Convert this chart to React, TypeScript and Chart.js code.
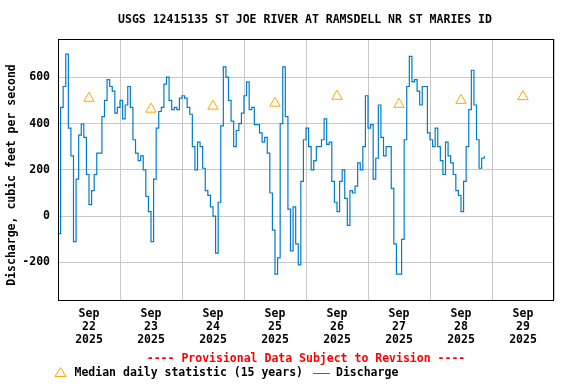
import React, { useEffect, useRef } from 'react';
import { Chart, registerables } from 'chart.js';

Chart.register(...registerables);

const TITLE = 'USGS 12415135 ST JOE RIVER AT RAMSDELL NR ST MARIES ID';
const Y_TITLE = 'Discharge, cubic feet per second';
const PROVISIONAL = '---- Provisional Data Subject to Revision ----';
const MEDIAN_LABEL = 'Median daily statistic (15 years)';
const DISCHARGE_LABEL = 'Discharge';
const MONTH = 'Sep';
const YEAR = '2025';
const dayLabels = ['22', '23', '24', '25', '26', '27', '28', '29'];
const dayTickHours = [0, 24, 48, 72, 96, 120, 144, 168, 192];
const yTicks = [-200, 0, 200, 400, 600];

// Hourly discharge (cfs), one value per hour starting at 00:00 of each day
const sep22Flow = [-75, 470, 560, 700, 380, 260, -110, 160, 350, 398, 340, 180, 50, 110, 180, 272, 272, 430, 500, 590, 560, 540, 445, 470];
const sep23Flow = [500, 420, 480, 560, 470, 330, 272, 240, 260, 200, 85, 20, -110, 160, 380, 452, 470, 570, 600, 500, 460, 470, 460, 510];
const sep24Flow = [520, 510, 470, 440, 300, 200, 320, 300, 207, 110, 90, 40, 0, -160, 60, 390, 645, 600, 500, 410, 300, 370, 400, 445];
const sep25Flow = [520, 580, 460, 470, 395, 395, 360, 320, 340, 272, 100, -60, -250, -180, 400, 645, 430, 30, -150, 40, -120, -210, 150, 330];
const sep26Flow = [380, 300, 200, 240, 300, 300, 330, 420, 310, 320, 150, 60, 20, 150, 200, 77, -40, 110, 100, 130, 230, 200, 300, 520];
const sep27Flow = [380, 395, 160, 250, 480, 340, 260, 300, 300, 120, -120, -250, -250, -100, 330, 560, 690, 580, 590, 540, 480, 560, 560, 360];
const sep28Flow = [330, 300, 380, 300, 240, 180, 320, 260, 230, 180, 110, 90, 20, 150, 300, 460, 630, 480, 330, 207, 250, 260];

// Median daily statistic (cfs), plotted at noon of each day
const medianFlow = [509, 462, 475, 488, 518, 483, 500, 516];

const FONT_FAMILY = '"DejaVu Sans Mono", monospace';
const FONT_SIZE = 11.5;
const CSS_FONT = `bold ${FONT_SIZE}px ${FONT_FAMILY}`;
const LINE_COLOR = 'rgb(0,124,204)';
const MEDIAN_COLOR = 'rgb(255,165,0)';
const GRID_COLOR = '#c8c8c8';

const decorations = {
  id: 'decorations',
  afterDraw(chart: any) {
    const { ctx, chartArea: ca } = chart;
    ctx.save();
    // frame
    ctx.strokeStyle = '#000';
    ctx.lineWidth = 1;
    ctx.strokeRect(ca.left + 0.5, ca.top + 0.5, ca.right - ca.left - 1, ca.bottom - ca.top);
    ctx.font = CSS_FONT;
    ctx.textBaseline = 'middle';
    ctx.textAlign = 'center';
    ctx.fillStyle = '#000';
    const cx = (ca.left + ca.right) / 2;
    ctx.fillText(TITLE, cx - 1, 20);
    ctx.fillStyle = '#ff0000';
    ctx.fillText(PROVISIONAL, cx, 359);
    // y title
    ctx.save();
    ctx.translate(12, 175);
    ctx.rotate(-Math.PI / 2);
    ctx.fillStyle = '#000';
    ctx.fillText(Y_TITLE, 0, 0);
    ctx.restore();
    // legend
    ctx.strokeStyle = MEDIAN_COLOR;
    ctx.beginPath();
    ctx.moveTo(60.5, 367.5);
    ctx.lineTo(66, 376.5);
    ctx.lineTo(55, 376.5);
    ctx.closePath();
    ctx.stroke();
    ctx.textAlign = 'left';
    ctx.fillStyle = '#000';
    ctx.fillText(MEDIAN_LABEL, 74.5, 373);
    ctx.strokeStyle = LINE_COLOR;
    ctx.beginPath();
    ctx.moveTo(313, 373.5);
    ctx.lineTo(330, 373.5);
    ctx.stroke();
    ctx.fillText(DISCHARGE_LABEL, 336, 373);
    ctx.restore();
  },
};

export default function App() {
  const ref = useRef<HTMLCanvasElement | null>(null);

  useEffect(() => {
    document.body.style.margin = '0';
    const canvas = ref.current;
    if (!canvas) return;
    const flow = [...sep22Flow, ...sep23Flow, ...sep24Flow, ...sep25Flow, ...sep26Flow, ...sep27Flow, ...sep28Flow];
    const flowPoints = flow.map((v, i) => ({ x: i, y: v }));
    const medianPoints = medianFlow.map((v, i) => ({ x: 12 + 24 * i, y: v }));
    const tickFont = { family: FONT_FAMILY, size: FONT_SIZE, weight: 'bold' as const, lineHeight: '13px' };

    const chart = new Chart(canvas, {
      type: 'line',
      data: {
        datasets: [
          {
            label: DISCHARGE_LABEL,
            data: flowPoints,
            borderColor: LINE_COLOR,
            borderWidth: 1.2,
            pointRadius: 0,
            stepped: true,
            fill: false,
          },
          {
            label: MEDIAN_LABEL,
            data: medianPoints,
            showLine: false,
            pointStyle: 'triangle',
            pointRadius: 6,
            pointBorderWidth: 1,
            pointBorderColor: MEDIAN_COLOR,
            pointBackgroundColor: 'rgba(0,0,0,0)',
            borderColor: MEDIAN_COLOR,
          },
        ],
      },
      options: {
        responsive: false,
        animation: false,
        layout: { padding: { top: 39, right: 22, left: 0, bottom: 0 } },
        plugins: {
          legend: { display: false },
          title: { display: false },
          tooltip: { enabled: false },
        },
        scales: {
          x: {
            type: 'linear',
            min: 0,
            max: 192,
            afterBuildTicks: (s: any) => {
              s.ticks = dayTickHours.map((v) => ({ value: v }));
            },
            afterFit: (s: any) => {
              s.height = 84;
            },
            grid: { color: GRID_COLOR, drawTicks: false },
            border: { display: false },
            ticks: {
              autoSkip: false,
              maxRotation: 0,
              minRotation: 0,
              padding: 8,
              labelOffset: 31,
              color: '#000',
              font: tickFont,
              callback: (_v: any, i: number) => (i < dayLabels.length ? [MONTH, dayLabels[i], YEAR] : ''),
            },
          },
          y: {
            type: 'linear',
            min: -362,
            max: 765,
            afterBuildTicks: (s: any) => {
              s.ticks = yTicks.map((v) => ({ value: v }));
            },
            afterFit: (s: any) => {
              s.width = 58;
            },
            grid: { color: GRID_COLOR, drawTicks: false },
            border: { display: false },
            ticks: {
              padding: 8,
              color: '#000',
              font: tickFont,
              callback: (v: any) => String(v),
            },
          },
        },
      },
      plugins: [decorations],
    });
    return () => chart.destroy();
  }, []);

  return (
    <div style={{ width: 576, height: 384 }}>
      <canvas ref={ref} width={576} height={384} style={{ display: 'block' }} />
    </div>
  );
}
